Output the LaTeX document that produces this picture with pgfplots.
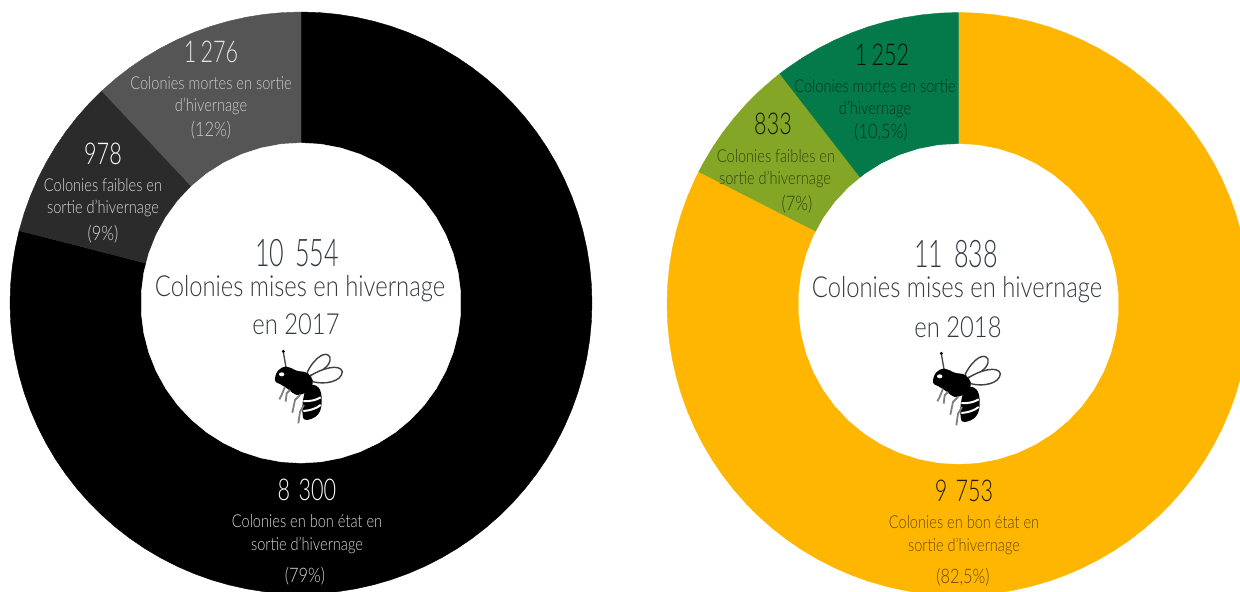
\documentclass[border=0pt]{standalone}
\usepackage{fontspec}
\setmainfont{Lato}[UprightFont=* Light, FakeStretch=0.82]
\newfontfamily\numfont{Lato}[UprightFont=* Light, FakeStretch=0.72]
\newfontfamily\bigfont{Lato}[UprightFont=* Light, FakeStretch=0.66]
\usepackage{pgfplots}
\pgfplotsset{compat=1.18}
\usepgfplotslibrary{polar}
\definecolor{amber}{HTML}{FFB600}
\definecolor{olive}{HTML}{83A626}
\definecolor{forest}{HTML}{047A4A}
\definecolor{grisA}{HTML}{2B2B2B}
\definecolor{grisB}{HTML}{555555}
\definecolor{ink}{HTML}{333A40}
% x = share of the colonies in percent, clockwise from the top
\pgfplotsset{donut/.style={
    hide axis, scale only axis, clip=false,
    width=#1, height=#1, xmin=0, xmax=360, ymin=0, ymax=1,
    x filter/.expression={90-3.6*x}},
  wedge/.style={fill=#1, draw=#1, line width=0.2pt}}
\tikzset{
  num/.style={inner sep=0pt, font=\numfont\fontsize{15}{15}\selectfont},
  lab/.style={inner sep=0pt, font=\fontsize{8.9}{9}\selectfont},
  pct/.style={inner sep=0pt, font=\fontsize{10}{10}\selectfont},
  big/.style={inner sep=0pt, font=\bigfont\fontsize{19}{19}\selectfont, text=ink},
  mid/.style={inner sep=0pt, font=\fontsize{14.5}{14.5}\selectfont, text=ink}}
\newcommand{\sep}{\hspace{0.14em}}
% bee, drawn in the pixels of a 110x100 crop at 3x
\newcommand{\bee}[2]{%
\begin{scope}[shift={(#1,#2)}, x=0.16667pt, y=-0.16667pt]
  \draw[black!75, line width=0.7pt, fill=white] (172,96) .. controls (195,50) and (230,30) .. (240,52) .. controls (245,80) and (205,100) .. (175,108) -- cycle;
  \draw[black!75, line width=0.7pt, fill=white] (180,108) .. controls (215,85) and (270,70) .. (277,95) .. controls (275,125) and (225,135) .. (188,125) -- cycle;
  \draw[black!70, line width=0.7pt] (108,82) -- (100,36);
  \fill (100,34) circle (5);
  \fill[black] plot[smooth cycle, tension=0.7] coordinates {(75,122) (84,92) (110,80) (140,92) (172,100) (188,130) (170,155) (140,165) (115,148) (90,132)};
  \fill[black] plot[smooth cycle, tension=0.7] coordinates {(175,138) (205,142) (215,180) (205,222) (170,240) (158,225) (160,175)};
  \fill[white] (95,103) ellipse (8 and 6);
  \draw[white, line width=1pt] (160,183) .. controls (180,185) and (200,180) .. (212,172);
  \draw[white, line width=1pt] (160,213) .. controls (180,212) and (200,205) .. (212,195);
  \draw[black!50, line width=0.9pt] (105,140) -- (95,165) -- (88,178);
  \draw[black!50, line width=0.9pt] (120,150) -- (110,160) -- (107,185);
  \draw[black!50, line width=0.9pt] (150,165) -- (135,180) -- (127,218);
  \draw[black!50, line width=0.9pt] (162,195) -- (150,215) -- (145,250);
\end{scope}}
\begin{document}
\begin{tikzpicture}[x=0.5pt, y=-0.5pt]
\useasboundingbox (0,0) rectangle (1240,592);
\clip (0,0) rectangle (1240,592);
\coordinate (c1) at (301,303);
\coordinate (c2) at (958.5,304);

\begin{polaraxis}[donut=291pt, at={(c1)}, anchor=center]
  % 8 300 colonies, 79%
  \addplot[wedge=black] coordinates {(0,0) (0,1) (1,1) (2,1) (3,1) (4,1) (5,1) (6,1) (7,1) (8,1) (9,1) (10,1) (11,1) (12,1) (13,1) (14,1) (15,1) (16,1) (17,1) (18,1) (19,1) (20,1) (21,1) (22,1) (23,1) (24,1) (25,1) (26,1) (27,1) (28,1) (29,1) (30,1) (31,1) (32,1) (33,1) (34,1) (35,1) (36,1) (37,1) (38,1) (39,1) (40,1) (41,1) (42,1) (43,1) (44,1) (45,1) (46,1) (47,1) (48,1) (49,1) (50,1) (51,1) (52,1) (53,1) (54,1) (55,1) (56,1) (57,1) (58,1) (59,1) (60,1) (61,1) (62,1) (63,1) (64,1) (65,1) (66,1) (67,1) (68,1) (69,1) (70,1) (71,1) (72,1) (73,1) (74,1) (75,1) (76,1) (77,1) (78,1) (79,1)} -- cycle;
  % 978 colonies, 9%
  \addplot[wedge=grisA] coordinates {(0,0) (79,1) (80,1) (81,1) (82,1) (83,1) (84,1) (85,1) (86,1) (87,1) (88,1)} -- cycle;
  % 1 276 colonies, 12%
  \addplot[wedge=grisB] coordinates {(0,0) (88,1) (89,1) (90,1) (91,1) (92,1) (93,1) (94,1) (95,1) (96,1) (97,1) (98,1) (99,1) (100,1)} -- cycle;
  % hole
  \addplot[wedge=white] coordinates {(0,.55) (2,.55) (4,.55) (6,.55) (8,.55) (10,.55) (12,.55) (14,.55) (16,.55) (18,.55) (20,.55) (22,.55) (24,.55) (26,.55) (28,.55) (30,.55) (32,.55) (34,.55) (36,.55) (38,.55) (40,.55) (42,.55) (44,.55) (46,.55) (48,.55) (50,.55) (52,.55) (54,.55) (56,.55) (58,.55) (60,.55) (62,.55) (64,.55) (66,.55) (68,.55) (70,.55) (72,.55) (74,.55) (76,.55) (78,.55) (80,.55) (82,.55) (84,.55) (86,.55) (88,.55) (90,.55) (92,.55) (94,.55) (96,.55) (98,.55)} -- cycle;
\end{polaraxis}

\begin{polaraxis}[donut=291.5pt, at={(c2)}, anchor=center]
  % 9 753 colonies, 82.5%
  \addplot[wedge=amber] coordinates {(0,0) (0,1) (1,1) (2,1) (3,1) (4,1) (5,1) (6,1) (7,1) (8,1) (9,1) (10,1) (11,1) (12,1) (13,1) (14,1) (15,1) (16,1) (17,1) (18,1) (19,1) (20,1) (21,1) (22,1) (23,1) (24,1) (25,1) (26,1) (27,1) (28,1) (29,1) (30,1) (31,1) (32,1) (33,1) (34,1) (35,1) (36,1) (37,1) (38,1) (39,1) (40,1) (41,1) (42,1) (43,1) (44,1) (45,1) (46,1) (47,1) (48,1) (49,1) (50,1) (51,1) (52,1) (53,1) (54,1) (55,1) (56,1) (57,1) (58,1) (59,1) (60,1) (61,1) (62,1) (63,1) (64,1) (65,1) (66,1) (67,1) (68,1) (69,1) (70,1) (71,1) (72,1) (73,1) (74,1) (75,1) (76,1) (77,1) (78,1) (79,1) (80,1) (81,1) (82,1) (82.5,1)} -- cycle;
  % 833 colonies, 7%
  \addplot[wedge=olive] coordinates {(0,0) (82.5,1) (83,1) (84,1) (85,1) (86,1) (87,1) (88,1) (89,1) (89.5,1)} -- cycle;
  % 1 252 colonies, 10.5%
  \addplot[wedge=forest] coordinates {(0,0) (89.5,1) (90,1) (91,1) (92,1) (93,1) (94,1) (95,1) (96,1) (97,1) (98,1) (99,1) (100,1)} -- cycle;
  % hole
  \addplot[wedge=white] coordinates {(0,.549) (2,.549) (4,.549) (6,.549) (8,.549) (10,.549) (12,.549) (14,.549) (16,.549) (18,.549) (20,.549) (22,.549) (24,.549) (26,.549) (28,.549) (30,.549) (32,.549) (34,.549) (36,.549) (38,.549) (40,.549) (42,.549) (44,.549) (46,.549) (48,.549) (50,.549) (52,.549) (54,.549) (56,.549) (58,.549) (60,.549) (62,.549) (64,.549) (66,.549) (68,.549) (70,.549) (72,.549) (74,.549) (76,.549) (78,.549) (80,.549) (82,.549) (84,.549) (86,.549) (88,.549) (90,.549) (92,.549) (94,.549) (96,.549) (98,.549)} -- cycle;
\end{polaraxis}

% left chart
\node[num, text=white!90!black] at (211,52) {1\sep 276};
\node[lab, text=white!80!black] at (211,83) {Colonies mortes en sortie};
\node[lab, text=white!80!black] at (211,106) {d'hivernage};
\node[pct, text=white!80!black] at (211,130) {(12\%)};
\node[num, text=white] at (103,154) {978};
\node[lab, text=white!85!black] at (103,185) {Colonies faibles en};
\node[lab, text=white!85!black] at (103,208) {sortie d'hivernage};
\node[pct, text=white!85!black] at (103,234) {(9\%)};
\node[big] at (297,253) {10\sep\sep 554};
\node[mid] at (300,289) {Colonies mises en hivernage};
\node[mid] at (296,324) {en 2017};
\node[num, text=white] at (307,490) {8\sep\sep 300};
\node[lab, text=white!85!black] at (307,521) {Colonies en bon état en};
\node[lab, text=white!85!black] at (307,545) {sortie d'hivernage};
\node[pct, text=white!85!black] at (305,576) {(79\%)};
\bee{250}{340}

% right chart
\node[num, text=black!85!forest] at (882,55) {1\sep 252};
\node[lab, text=black!60!forest] at (875,86) {Colonies mortes en sortie};
\node[lab, text=black!60!forest] at (875,109) {d'hivernage};
\node[pct, text=black!60!forest] at (881,132) {(10,5\%)};
\node[num, text=black!85!olive] at (773,124) {833};
\node[lab, text=black!60!olive] at (776,156) {Colonies faibles en};
\node[lab, text=black!60!olive] at (775,179) {sortie d'hivernage};
\node[pct, text=black!60!olive] at (797,204) {(7\%)};
\node[big] at (956,254) {11\sep\sep 838};
\node[mid] at (957,290) {Colonies mises en hivernage};
\node[mid] at (958,327) {en 2018};
\node[num, text=black!85!amber] at (964,491) {9\sep\sep 753};
\node[lab, text=black!60!amber] at (964,522) {Colonies en bon état en};
\node[lab, text=black!60!amber] at (964,546) {sortie d'hivernage};
\node[pct, text=black!60!amber] at (963,577) {(82,5\%)};
\bee{908}{342}
\end{tikzpicture}
\end{document}
